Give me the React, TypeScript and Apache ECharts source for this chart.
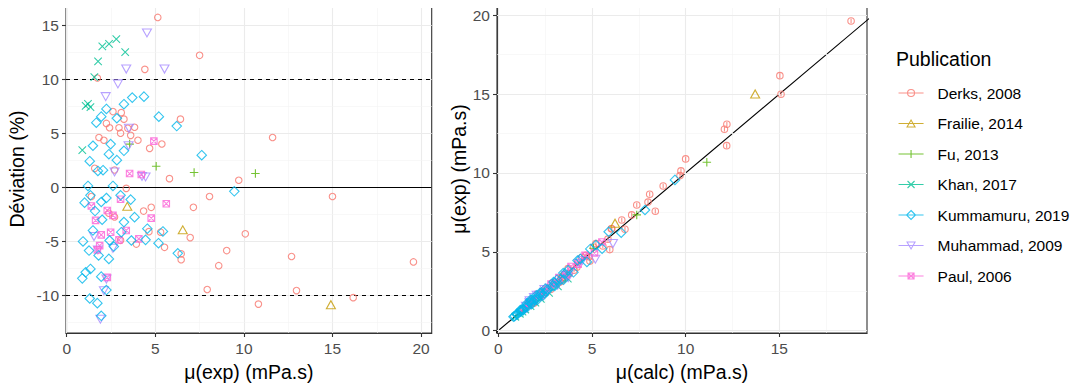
import React, { useEffect, useRef } from "react";
import * as echarts from "echarts";

const FONT = "'Liberation Sans', Arial, Helvetica, sans-serif";

const publications = [
  "Derks, 2008",
  "Frailie, 2014",
  "Fu, 2013",
  "Khan, 2017",
  "Kummamuru, 2019",
  "Muhammad, 2009",
  "Paul, 2006",
];
const colors = ["#F8766D", "#C49A00", "#53B400", "#00C094", "#00B6EB", "#A58AFF", "#FB61D7"];

// Left panel: [mu(exp), deviation %]
const derksDev = [
  [5.14, 15.7], [7.5, 12.2], [1.73, 10.1], [4.41, 10.9], [2.61, 7.0], [3.08, 6.9], [3.23, 6.3],
  [6.42, 6.3], [2.24, 5.9], [2.42, 5.5], [2.95, 5.5], [3.45, 5.45], [3.83, 5.55], [3.04, 5.0],
  [3.61, 4.8], [4.02, 4.35], [1.82, 4.6], [2.1, 4.35], [4.68, 3.6], [5.37, 4.0], [2.7, 1.6],
  [5.8, 0.8], [1.58, 1.75], [11.62, 4.6], [9.71, 0.65], [8.06, -0.85], [15.0, -0.85], [7.15, -1.85],
  [6.97, -4.65], [10.08, -4.3], [9.03, -5.85], [8.58, -7.25], [12.69, -6.4], [19.57, -6.9],
  [7.93, -9.45], [12.97, -9.55], [10.82, -10.8], [16.17, -10.2], [3.36, -0.1], [1.39, -0.85],
  [4.77, -1.85], [4.34, -2.2], [5.3, -4.15], [4.64, -4.1], [3.93, -5.25], [5.52, -5.55],
  [6.46, -6.7], [6.46, -6.15], [3.04, -4.9], [2.7, -2.75], [2.38, -2.4],
];
const frailieDev = [[3.42, -1.76], [6.55, -3.93], [14.91, -10.86]];
const fuDev = [[3.55, 3.99], [5.05, 1.95], [7.19, 1.36], [10.65, 1.27]];
const khanDev = [
  [2.8, 13.7], [2.39, 13.25], [2.01, 13.03], [3.3, 12.5], [1.77, 11.64], [1.56, 10.19],
  [1.07, 7.52], [1.34, 7.4], [1.2, 7.7], [0.88, 3.44],
];
const kummamuruDev = [
  [2.24, 7.24], [3.23, 7.68], [3.7, 8.29], [4.36, 8.38], [1.95, 6.53], [1.67, 5.97], [2.83, 6.38],
  [5.2, 6.53], [6.21, 5.66], [1.48, 3.84], [2.48, 3.99], [2.38, 3.06], [3.23, 3.37], [2.83, 2.51],
  [1.3, 2.41], [1.76, 1.51], [2.05, 1.58], [7.62, 2.97], [9.46, -0.37], [1.2, 0.12], [2.61, 0.12],
  [1.01, -1.42], [1.34, -0.74], [2.24, -0.99], [1.95, -1.36], [3.04, -0.74], [3.61, -1.14],
  [3.83, -2.76], [3.23, -3.22], [1.48, -3.99], [4.55, -3.83], [5.43, -4.08], [3.08, -4.15],
  [0.92, -5.01], [1.26, -5.85], [2.42, -4.92], [2.66, -5.48], [3.65, -4.92], [4.45, -4.86],
  [5.18, -5.17], [2.38, -6.62], [6.27, -6.1], [0.88, -8.42], [1.07, -7.86], [1.34, -7.55],
  [1.95, -8.26], [1.3, -10.28], [1.73, -10.71], [1.95, -11.88], [2.24, -9.5], [1.6, -2.2],
  [2.0, -3.0], [1.8, -6.3],
];
const muhammadDev = [
  [4.53, 14.27], [3.36, 10.93], [5.52, 10.93], [2.89, 9.56], [2.2, 8.38], [3.51, 5.45],
  [3.49, 3.84], [2.7, 1.42], [4.45, 0.96], [4.25, 1.0], [2.24, -8.48], [2.1, -9.56],
  [1.9, -12.19], [1.76, -5.79], [2.61, -5.64], [1.54, -4.55],
];
const paulDev = [
  [4.92, 4.27], [3.55, 1.27], [4.21, 1.18], [5.62, -1.52], [3.04, -1.11], [1.39, -1.73],
  [2.29, -2.14], [2.61, -2.6], [1.63, -3.06], [4.77, -2.85], [3.36, -3.99], [2.48, -4.15],
  [1.95, -4.4], [2.95, -4.86], [1.86, -5.39], [1.73, -5.79], [4.07, -4.77], [2.29, -8.33],
];

// Right panel: [mu(calc), mu(exp)]
const derksParity = [
  [18.83, 19.64], [15.03, 16.17], [15.09, 14.99], [12.2, 13.09], [12.07, 12.77], [12.19, 11.73],
  [10.0, 10.89], [9.75, 10.13], [9.7, 9.83], [8.8, 9.17], [8.08, 8.65], [7.99, 8.15], [8.38, 7.57],
  [7.39, 7.97], [7.12, 7.34], [6.59, 7.02], [6.76, 6.43], [5.95, 5.14], [4.89, 4.41], [1.9, 1.73],
  [2.79, 2.61], [3.29, 3.08], [3.43, 3.23], [2.37, 2.24], [2.55, 2.42], [3.11, 2.95], [3.64, 3.45],
  [4.04, 3.83], [3.19, 3.04], [3.78, 3.61], [4.19, 4.02], [1.9, 1.82], [2.19, 2.1], [4.85, 4.68],
  [5.58, 5.37], [2.74, 2.7], [5.85, 5.8], [1.61, 1.58], [3.36, 3.36], [1.38, 1.39], [4.68, 4.77],
  [4.24, 4.34], [5.08, 5.3], [4.45, 4.64], [3.72, 3.93], [5.21, 5.52], [6.03, 6.46], [6.06, 6.46],
  [2.89, 3.04], [2.63, 2.7], [2.32, 2.38],
];
const frailieParity = [[13.71, 15.01], [6.23, 6.81], [3.36, 3.42]];
const fuParity = [[11.13, 10.68], [7.39, 7.34], [5.07, 5.22], [3.69, 3.55]];
const khanParity = [
  [3.18, 2.8], [2.71, 2.39], [2.27, 2.01], [3.71, 3.3], [1.98, 1.77], [1.72, 1.56], [1.15, 1.07],
  [1.44, 1.34], [1.29, 1.2], [0.91, 0.88],
];
const kummamuruParity = [
  [2.4, 2.24], [3.48, 3.23], [4.01, 3.7], [4.73, 4.36], [2.08, 1.95], [1.77, 1.67], [3.01, 2.83],
  [5.54, 5.2], [6.56, 6.21], [1.54, 1.48], [2.58, 2.48], [2.45, 2.38], [3.34, 3.23], [2.9, 2.83],
  [1.33, 1.3], [1.79, 1.76], [2.08, 2.05], [7.83, 7.65], [9.43, 9.56], [1.2, 1.2], [2.61, 2.61],
  [1.0, 1.01], [1.33, 1.34], [2.22, 2.24], [1.92, 1.95], [3.02, 3.04], [3.57, 3.61], [3.72, 3.83],
  [3.13, 3.23], [1.42, 1.48], [4.38, 4.55], [5.21, 5.43], [2.95, 3.08], [0.87, 0.92], [1.19, 1.26],
  [2.3, 2.42], [2.51, 2.66], [3.47, 3.65], [4.23, 4.45], [4.91, 5.18], [2.22, 2.38], [5.89, 6.27],
  [0.81, 0.88], [0.99, 1.07], [1.24, 1.34], [1.79, 1.95], [1.17, 1.3], [1.54, 1.73], [1.72, 1.95],
  [2.03, 2.24], [1.56, 1.6], [1.94, 2.0], [1.69, 1.8],
];
const muhammadParity = [
  [5.18, 4.53], [3.73, 3.36], [6.12, 5.52], [3.17, 2.89], [2.38, 2.2], [3.7, 3.51], [3.62, 3.49],
  [2.74, 2.7], [4.49, 4.45], [4.29, 4.25], [2.05, 2.24], [1.9, 2.1], [1.67, 1.9], [1.66, 1.76],
  [2.46, 2.61], [1.47, 1.54],
];
const paulParity = [
  [5.13, 4.92], [3.6, 3.55], [4.26, 4.21], [5.53, 5.62], [3.01, 3.04], [1.37, 1.39], [2.24, 2.29],
  [2.54, 2.61], [1.58, 1.63], [4.63, 4.77], [3.23, 3.36], [2.38, 2.48], [1.86, 1.95], [2.81, 2.95],
  [1.76, 1.86], [1.63, 1.73], [3.88, 4.07], [2.1, 2.29],
];

// Axis ticks and reference lines
const devTicksX = [0, 5, 10, 15, 20];
const devMinorX = [2.5, 7.5, 12.5, 17.5];
const devTicksY = [-10, -5, 0, 5, 10, 15];
const devMinorY = [-12.5, -7.5, -2.5, 2.5, 7.5, 12.5];
const parityTicks = [0, 5, 10, 15, 20];
const parityMinor = [2.5, 7.5, 12.5, 17.5];
const devRefSolid = [0];
const devRefDashed = [-10, 10];
const identityLine = [[-1, -1], [21, 21]];

const SYMBOLS = {
  circle: "circle",
  triangle: "path://M0,8.66L5,0L10,8.66Z",
  plus: "path://M0,5L10,5M5,0L5,10",
  cross: "path://M0,0L10,10M10,0L0,10",
  diamond: "path://M5,0L10,5L5,10L0,5Z",
  triDown: "path://M0,0L10,0L5,8.66Z",
  squareCross: "path://M0,0L10,0L10,10L0,10Z M0,0L10,10M10,0L0,10",
  circleBar: "path://M5,0A5,5 0 1,1 5,10A5,5 0 1,1 5,0Z M5,1.5L5,8.5",
};

const seriesSymbolsLeft = [
  SYMBOLS.circle, SYMBOLS.triangle, SYMBOLS.plus, SYMBOLS.cross, SYMBOLS.diamond, SYMBOLS.triDown, SYMBOLS.squareCross,
];
const seriesSymbolsRight = [
  SYMBOLS.circleBar, SYMBOLS.triangle, SYMBOLS.plus, SYMBOLS.cross, SYMBOLS.diamond, SYMBOLS.triDown, SYMBOLS.squareCross,
];
const symbolSizes: any[] = [6.5, [9, 8], 8.5, 7.5, 9.5, [9, 8], 6.5];
const seriesZ = [5, 5, 5, 5, 7, 5, 5];

const legendIcons = [
  "path://M0,0M34,9M0,4.5L25,4.5M9,4.5A3.5,3.5 0 1,1 16,4.5A3.5,3.5 0 1,1 9,4.5Z",
  "path://M0,0M34,9M0,4.5L25,4.5M8.5,8L12.5,1L16.5,8Z",
  "path://M0,0M34,9M0,4.5L25,4.5M12.5,0.5L12.5,8.5",
  "path://M0,0M34,9M0,4.5L25,4.5M9,1L16,8M16,1L9,8",
  "path://M0,0M34,9M0,4.5L25,4.5M12.5,0L17,4.5L12.5,9L8,4.5Z",
  "path://M0,0M34,9M0,4.5L25,4.5M8.5,1L16.5,1L12.5,8Z",
  "path://M0,0M34,9M0,4.5L25,4.5M9.5,1.5L15.5,1.5L15.5,7.5L9.5,7.5Z M9.5,1.5L15.5,7.5M15.5,1.5L9.5,7.5",
];

const devData = [derksDev, frailieDev, fuDev, khanDev, kummamuruDev, muhammadDev, paulDev];
const parityData = [derksParity, frailieParity, fuParity, khanParity, kummamuruParity, muhammadParity, paulParity];

const GRID_MAJOR = "#EBEBEB";
const GRID_MINOR = "#F3F3F3";

function gridLines(axis: "xAxis" | "yAxis", major: number[], minor: number[]) {
  return [
    ...minor.map((v) => ({ [axis]: v, lineStyle: { color: GRID_MINOR, width: 0.6, type: "solid" } })),
    ...major.map((v) => ({ [axis]: v, lineStyle: { color: GRID_MAJOR, width: 1.1, type: "solid" } })),
  ];
}

function axisBase(ticks: number[], min: number, max: number, name: string, nameGap: number, gridIndex: number) {
  return {
    type: "value",
    gridIndex,
    min,
    max,
    name,
    nameLocation: "middle",
    nameGap,
    nameTextStyle: { fontSize: 19.5, color: "#000000", fontFamily: FONT },
    axisLine: { show: true, onZero: false, lineStyle: { color: "#333333", width: 1.1 } },
    axisTick: { show: true, length: 4, lineStyle: { color: "#333333", width: 1.1 }, customValues: ticks },
    axisLabel: { customValues: ticks, margin: 7, fontSize: 15.5, color: "#4D4D4D", fontFamily: FONT },
    splitLine: { show: false },
    minorSplitLine: { show: false },
  };
}

export default function App() {
  const ref = useRef<HTMLDivElement>(null);

  useEffect(() => {
    if (!ref.current) return;
    const chart = echarts.init(ref.current, undefined, { renderer: "svg" });

    const scatterSeries: any[] = [];
    publications.forEach((name, i) => {
      const style = { color: "rgba(0,0,0,0)", borderColor: colors[i], borderWidth: 1.1 };
      scatterSeries.push({
        type: "scatter",
        name,
        xAxisIndex: 0,
        yAxisIndex: 0,
        data: devData[i],
        symbol: seriesSymbolsLeft[i],
        symbolSize: symbolSizes[i],
        itemStyle: style,
        z: seriesZ[i],
        silent: true,
      });
      scatterSeries.push({
        type: "scatter",
        name,
        xAxisIndex: 1,
        yAxisIndex: 1,
        data: parityData[i],
        symbol: seriesSymbolsRight[i],
        symbolSize: symbolSizes[i],
        itemStyle: style,
        z: seriesZ[i],
        silent: true,
      });
    });

    const option: any = {
      animation: false,
      backgroundColor: "#ffffff",
      textStyle: { fontFamily: FONT },
      title: {
        text: "Publication",
        left: 896,
        top: 49,
        padding: 0,
        textStyle: { fontSize: 19.5, fontWeight: "normal", color: "#000000", fontFamily: FONT },
      },
      legend: {
        orient: "vertical",
        left: 898,
        top: 85,
        padding: 0,
        itemWidth: 34,
        itemHeight: 9,
        itemGap: 14.5,
        selectedMode: false,
        itemStyle: { borderWidth: 1.1 },
        textStyle: { fontSize: 15.5, color: "#000000", fontFamily: FONT, lineHeight: 16 },
        data: publications.map((name, i) => ({ name, icon: legendIcons[i] })),
      },
      grid: [
        { left: 66, top: 5, width: 365.7, height: 328, show: true, borderColor: "#333333", borderWidth: 1.1, backgroundColor: "#ffffff" },
        { left: 497, top: 5, width: 370, height: 328, show: true, borderColor: "#333333", borderWidth: 1.1, backgroundColor: "#ffffff" },
      ],
      xAxis: [
        axisBase(devTicksX, -0.04, 20.6, "μ(exp) (mPa.s)", 29, 0),
        axisBase(parityTicks, -0.07, 19.68, "μ(calc) (mPa.s)", 29, 1),
      ],
      yAxis: [
        axisBase(devTicksY, -13.47, 16.85, "Déviation (%)", 39, 0),
        axisBase(parityTicks, -0.15, 20.65, "μ(exp) (mPa.s)", 25, 1),
      ],
      series: [
        {
          type: "line",
          name: "gridLeft",
          xAxisIndex: 0,
          yAxisIndex: 0,
          data: [],
          z: 1,
          silent: true,
          markLine: {
            silent: true,
            symbol: ["none", "none"],
            label: { show: false },
            animation: false,
            data: [
              ...gridLines("xAxis", devTicksX, devMinorX),
              ...gridLines("yAxis", devTicksY, devMinorY),
              ...devRefSolid.map((v) => ({ yAxis: v, lineStyle: { color: "#000000", width: 1.1, type: "solid" } })),
              ...devRefDashed.map((v) => ({ yAxis: v, lineStyle: { color: "#000000", width: 1.1, type: [4, 4] } })),
            ],
          },
        },
        {
          type: "line",
          name: "gridRight",
          xAxisIndex: 1,
          yAxisIndex: 1,
          data: [],
          z: 1,
          silent: true,
          markLine: {
            silent: true,
            symbol: ["none", "none"],
            label: { show: false },
            animation: false,
            data: [
              ...gridLines("xAxis", parityTicks, parityMinor),
              ...gridLines("yAxis", parityTicks, parityMinor),
            ],
          },
        },
        {
          type: "line",
          name: "identity",
          xAxisIndex: 1,
          yAxisIndex: 1,
          data: identityLine,
          symbol: "none",
          clip: true,
          z: 3,
          silent: true,
          lineStyle: { color: "#000000", width: 1.1 },
        },
        ...scatterSeries,
      ],
    };

    chart.setOption(option);
    return () => chart.dispose();
  }, []);

  return <div ref={ref} style={{ width: 1084, height: 392, margin: -8 }} />;
}
